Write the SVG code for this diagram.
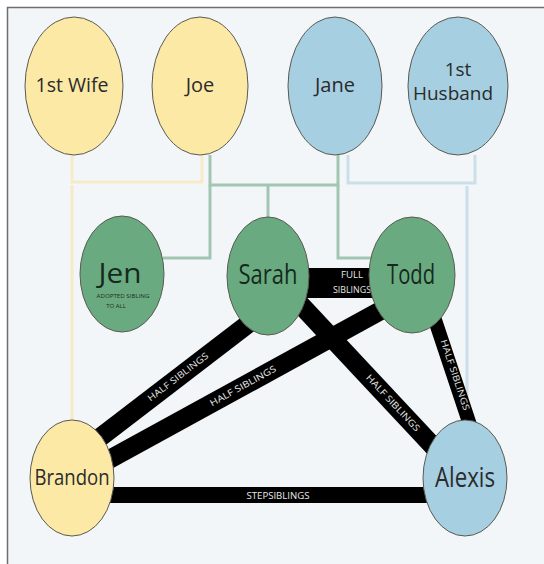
<svg xmlns="http://www.w3.org/2000/svg" width="544" height="564" viewBox="0 0 544 564">
<style>
.node{stroke:#5a5a52;stroke-width:1}
.y{fill:#fce9a6}
.b{fill:#a6cfe2}
.g{fill:#6aaa80}
.lbl{font-family:"Open Sans","Noto Sans",sans-serif;fill:#2b2b2b;text-anchor:middle}
.gl{fill:#142a1c}
.sm{font-family:"Open Sans","Noto Sans",sans-serif;font-size:6px;fill:#1d2f22;text-anchor:middle}
.bar{stroke:#000;fill:none}
.bt{font-family:"Open Sans","Noto Sans",sans-serif;font-size:9px;fill:#e8e8e8;text-anchor:middle}
.cy{stroke:#f5ebc8;stroke-width:3;fill:none}
.cg{stroke:#a2c6b4;stroke-width:3;fill:none}
.cb{stroke:#cadfe9;stroke-width:3;fill:none}
</style>
<rect x="0" y="0" width="544" height="564" fill="#ffffff"/>
<rect x="7.5" y="7.5" width="540" height="560" fill="#f3f6f8" stroke="#6e6e6e" stroke-width="1.5"/>
<g id="connectors">
  <path class="cy" d="M72,155 V182 H202 V155"/>
  <path class="cy" d="M72,185 V420"/>
  <path class="cg" d="M210,155 V185 H338 V155"/>
  <path class="cg" d="M210,185 V258 H163"/>
  <path class="cg" d="M268,185 V218"/>
  <path class="cg" d="M338,185 V258 H372"/>
  <path class="cb" d="M348,155 V183 H475 V155"/>
  <path class="cb" d="M467,186 V420"/>
  <line class="bar" x1="300" y1="283" x2="380" y2="283" stroke-width="30"/>
  <line class="bar" x1="100" y1="495" x2="440" y2="495" stroke-width="16"/>
  <line class="bar" x1="265" y1="311" x2="85" y2="449" stroke-width="19"/>
  <line class="bar" x1="400" y1="300" x2="90" y2="470" stroke-width="19"/>
  <line class="bar" x1="285" y1="288" x2="460" y2="475" stroke-width="19"/>
  <line class="bar" x1="430" y1="305" x2="475" y2="440" stroke-width="14"/>
  <text class="bt" x="352" y="278" font-size="8" textLength="22" lengthAdjust="spacingAndGlyphs">FULL</text>
  <text class="bt" x="352" y="293" font-size="8" textLength="38" lengthAdjust="spacingAndGlyphs">SIBLINGS</text>
  <text class="bt" x="278" y="498.5" textLength="63" lengthAdjust="spacingAndGlyphs">STEPSIBLINGS</text>
  <text class="bt" transform="translate(178,377) rotate(-37.4)" y="3" textLength="74" lengthAdjust="spacingAndGlyphs">HALF SIBLINGS</text>
  <text class="bt" transform="translate(243,386) rotate(-28.8)" y="3" textLength="74" lengthAdjust="spacingAndGlyphs">HALF SIBLINGS</text>
  <text class="bt" transform="translate(393,403) rotate(46.9)" y="3" textLength="74" lengthAdjust="spacingAndGlyphs">HALF SIBLINGS</text>
  <text class="bt" transform="translate(455,375) rotate(71.6)" y="3" textLength="74" lengthAdjust="spacingAndGlyphs">HALF SIBLINGS</text>
</g>
<g id="wife1"><ellipse class="node y" cx="74" cy="86" rx="49" ry="69"/><text class="lbl" x="72" y="92" font-size="20" textLength="73" lengthAdjust="spacingAndGlyphs">1st Wife</text></g>
<g id="joe"><ellipse class="node y" cx="200" cy="86" rx="48" ry="69"/><text class="lbl" x="200" y="92" font-size="20">Joe</text></g>
<g id="jane"><ellipse class="node b" cx="335" cy="86" rx="47" ry="69"/><text class="lbl" x="335" y="92" font-size="20">Jane</text></g>
<g id="husband1"><ellipse class="node b" cx="458" cy="86" rx="50" ry="69"/><text class="lbl" x="458" y="76" font-size="19">1st</text><text class="lbl" x="453" y="100" font-size="19" textLength="80" lengthAdjust="spacingAndGlyphs">Husband</text></g>
<g id="jen"><ellipse class="node g" cx="122" cy="274" rx="42" ry="58"/><text class="lbl gl" x="120" y="283" font-size="27" textLength="43" lengthAdjust="spacingAndGlyphs">Jen</text><text class="sm" x="123" y="298" textLength="53" lengthAdjust="spacingAndGlyphs">ADOPTED SIBLING</text><text class="sm" x="116" y="308">TO ALL</text></g>
<g id="sarah"><ellipse class="node g" cx="268" cy="276" rx="41" ry="59"/><text class="lbl gl" x="268" y="284" font-size="27" textLength="59" lengthAdjust="spacingAndGlyphs">Sarah</text></g>
<g id="todd"><ellipse class="node g" cx="412" cy="275" rx="43" ry="58"/><text class="lbl gl" x="411" y="284" font-size="27" textLength="48" lengthAdjust="spacingAndGlyphs">Todd</text></g>
<g id="brandon"><ellipse class="node y" cx="72" cy="478" rx="42" ry="58"/><text class="lbl" x="72" y="485" font-size="22" textLength="75" lengthAdjust="spacingAndGlyphs">Brandon</text></g>
<g id="alexis"><ellipse class="node b" cx="465" cy="478" rx="42" ry="58"/><text class="lbl" x="465" y="487" font-size="28" textLength="60" lengthAdjust="spacingAndGlyphs">Alexis</text></g>
</svg>
